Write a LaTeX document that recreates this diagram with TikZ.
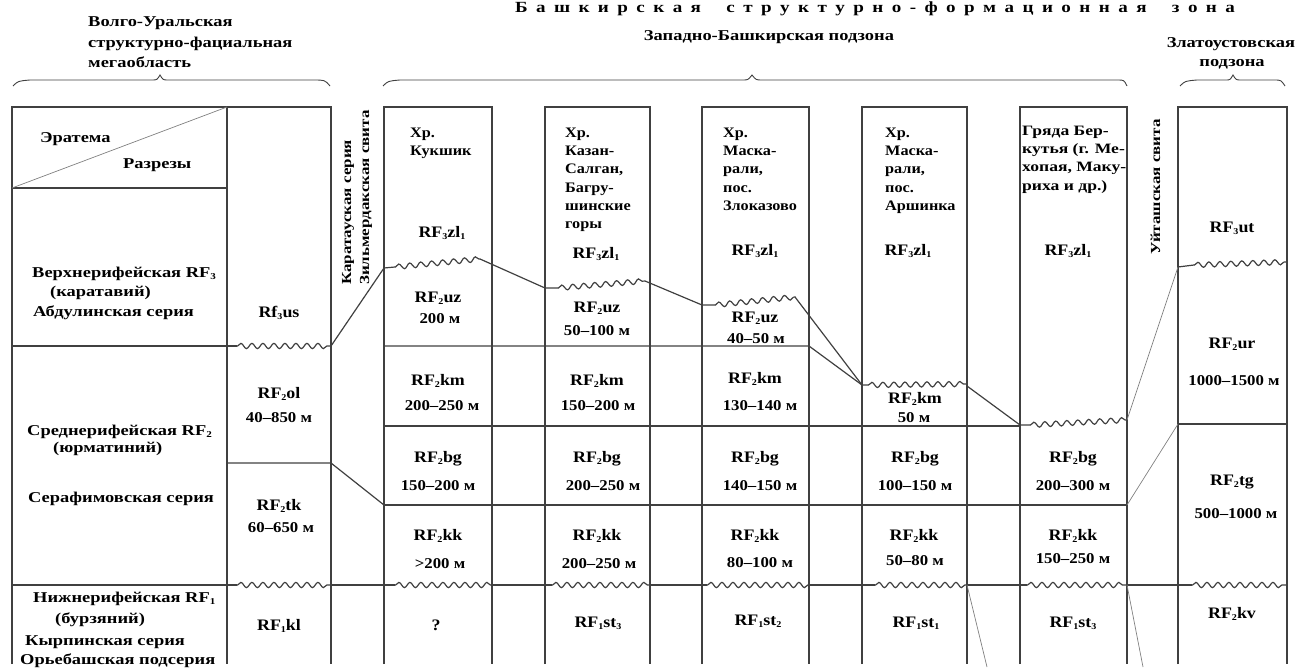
\documentclass[tikz,border=0pt]{standalone}
\usepackage{fontspec}
\setmainfont{Liberation Serif}[FakeStretch=1.12]
\newfontfamily\widefam{Liberation Serif}[FakeStretch=1.23]
\newcommand\sbs[1]{\raisebox{-2.2pt}{\fontsize{9}{9}\selectfont #1}}
\usetikzlibrary{decorations.pathmorphing}
\begin{document}
\begin{tikzpicture}[x=1pt,y=-1pt,
  every node/.style={inner sep=0pt, text=black},
  lab/.style={font=\bfseries\fontsize{15}{18.3}\selectfont, anchor=base},
  labw/.style={font=\widefam\bfseries\fontsize{15}{18.3}\selectfont, anchor=base west},
  labc/.style={font=\widefam\bfseries\fontsize{15}{18.3}\selectfont, anchor=base},
  rf/.style={font=\bfseries\fontsize{16}{18}\selectfont, anchor=base},
  hd/.style={font=\bfseries\fontsize{14.5}{18.3}\selectfont, anchor=base west},
  hdb/.style={font=\widefam\bfseries\fontsize{14.3}{18}\selectfont, anchor=base west},
  vt/.style={font=\widefam\bfseries\fontsize{13.8}{16}\selectfont, anchor=base west, rotate=90},
  ln/.style={line width=1.2pt, draw=black!75},
  thinln/.style={line width=0.7pt, draw=black!50},
  wave/.style={ln, decorate, decoration={snake, amplitude=2.6pt, segment length=11pt, pre length=0.5pt, post length=0.5pt}},
]
\useasboundingbox (0,0) rectangle (1299,667);

% ---------- title and headings ----------
\node[font=\widefam\bfseries\fontsize{15.5}{18}\selectfont, anchor=base] (title) at (875,12)
  {\makebox[720pt][s]{Б а ш к и р с к а я \ \ с т р у к т у р н о - ф о р м а ц и о н н а я \ \ з о н а}};
\node[labw] (vu1) at (88,26) {Волго-Уральская};
\node[labw] (vu2) at (88,47) {структурно-фациальная};
\node[labw] (vu3) at (88,67) {мегаобласть};
\node[labc] (wb) at (769,40) {Западно-Башкирская подзона};
\node[labc] (zl1) at (1231,47) {Златоустовская};
\node[labc] (zl2) at (1232,66) {подзона};

% braces
\draw[ln, line width=0.9pt] (13,86) .. controls (18,81) .. (30,80) -- (152,80) .. controls (157,80) .. (160,75) .. controls (163,80) .. (168,80) -- (313,80) .. controls (325,80) .. (330,86);
\draw[ln, line width=0.9pt] (383,86) .. controls (388,81) .. (400,80) -- (743,80) .. controls (748,80) .. (752,75) .. controls (756,80) .. (762,80) -- (1118,80) .. controls (1124,80) .. (1127,86);
\draw[ln, line width=0.9pt] (1180,86) .. controls (1185,81) .. (1197,80) -- (1226,80) .. controls (1230,80) .. (1233,75) .. controls (1236,80) .. (1241,80) -- (1274,80) .. controls (1281,80) .. (1285,86);

% ---------- table frame ----------
\draw[ln] (12,664) -- (12,107) -- (331,107) -- (331,664);
\draw[ln] (227,107) -- (227,664);
\draw[ln] (384,664) -- (384,107) -- (492,107) -- (492,664);
\draw[ln] (545,664) -- (545,107) -- (650,107) -- (650,664);
\draw[ln] (702,664) -- (702,107) -- (809,107) -- (809,664);
\draw[ln] (862,664) -- (862,107) -- (967,107) -- (967,664);
\draw[ln] (1020,664) -- (1020,107) -- (1127,107) -- (1127,664);
\draw[ln] (1178,664) -- (1178,107) -- (1287,107) -- (1287,664);

% left part
\draw[ln] (12,188) -- (227,188);
\draw[thinln] (12,188) -- (227,107);
\draw[ln] (12,346) -- (227,346);
\draw[ln] (227,346) -- (237,346);
\draw[wave] (237,346) -- (331,346);
\draw[ln] (331,346) -- (384,268);
\draw[ln] (227,463) -- (331,463) -- (384,505);
\draw[ln] (12,585) -- (237,585);
\draw[wave] (237,585) -- (331,585);

% upper contact RF3 / RF2
\draw[ln] (384,268) -- (395,267);
\draw[wave] (395,267) -- (480,259);
\draw[ln] (480,259) -- (545,288) -- (558,288);
\draw[wave] (558,288) -- (645,281);
\draw[ln] (645,281) -- (702,305) -- (715,305);
\draw[wave] (715,305) -- (795,297);
\draw[ln] (795,297) -- (862,385) -- (868,385);
\draw[wave] (868,385) -- (967,384);
\draw[ln] (967,386) -- (1020,425) -- (1030,425);
\draw[wave] (1030,425) -- (1127,420);
\draw[thinln] (1127,420) -- (1178,267);
\draw[ln] (1178,267) -- (1194,265);
\draw[wave] (1194,265) -- (1287,262);

% RF2 internal lines
\draw[ln] (384,346) -- (809,346) -- (862,385);
\draw[ln] (384,426) -- (1020,426);
\draw[ln] (384,505) -- (1127,505);
\draw[thinln] (1127,505) -- (1178,424);
\draw[ln] (1178,424) -- (1287,424);

% lower contact RF2 / RF1
\draw[ln] (331,585) -- (395,585);
\draw[wave] (395,585) -- (492,585);
\draw[ln] (492,585) -- (552,585);
\draw[wave] (552,585) -- (650,585);
\draw[ln] (650,585) -- (707,585);
\draw[wave] (707,585) -- (809,585);
\draw[ln] (809,585) -- (875,585);
\draw[wave] (875,585) -- (967,585);
\draw[ln] (967,585) -- (1027,585);
\draw[wave] (1027,585) -- (1127,585);
\draw[ln] (1127,585) -- (1192,585);
\draw[wave] (1192,585) -- (1287,585);
\draw[thinln] (967,585) -- (987,667);
\draw[thinln] (1127,585) -- (1143,667);

% ---------- vertical labels ----------
\node[vt] (kar) at (351,285) {Каратауская серия};
\node[vt] (zil) at (369,285) {Зильмердакская свита};
\node[vt] (uit) at (1160,255) {Уйташская свита};

% ---------- left columns ----------
\node[labw] (er) at (40,142) {Эратема};
\node[labw] (raz) at (123,168) {Разрезы};
\node[labw] (v1) at (32,277) {Верхнерифейская RF\sbs{3}};
\node[labw] (v2) at (50,296) {(каратавий)};
\node[labw] (v3) at (33,316) {Абдулинская серия};
\node[rf] (us) at (279,317) {Rf\sbs{3}us};

\node[labw] (s1) at (27,435) {Среднерифейская RF\sbs{2}};
\node[labw] (s2) at (53,452) {(юрматиний)};
\node[labw] (s3) at (28,502) {Серафимовская серия};
\node[labw] (n1) at (33,602) {Нижнерифейская RF\sbs{1}};
\node[labw] (n2) at (55,623) {(бурзяний)};
\node[labw] (n3) at (25,645) {Кырпинская серия};
\node[labw] (n4) at (20,664) {Орьебашская подсерия};

\node[rf] (ol) at (279,398) {RF\sbs{2}ol};
\node[lab] (olm) at (279,422) {40--850 м};
\node[rf] (tk) at (279,510) {RF\sbs{2}tk};
\node[lab] (tkm) at (281,532) {60--650 м};
\node[rf] (kl) at (279,630) {RF\sbs{1}kl};

% ---------- Kukshik ----------
\node[hd] (k0a) at (410,137) {Хр.};
\node[hd] (k0b) at (410,155) {Кукшик};
\node[rf] (kzl) at (442,237) {RF\sbs{3}zl\sbs{1}};
\node[rf] (kuz) at (438,302) {RF\sbs{2}uz};
\node[lab] (kuzm) at (440,323) {200 м};
\node[rf] (kkm) at (438,385) {RF\sbs{2}km};
\node[lab] (kkmm) at (442,410) {200--250 м};
\node[rf] (kbg) at (438,462) {RF\sbs{2}bg};
\node[lab] (kbgm) at (438,490) {150--200 м};
\node[rf] (kkk) at (438,540) {RF\sbs{2}kk};
\node[lab] (kkkm) at (440,568) {>200 м};
\node[rf] (kq) at (436,630) {?};

% ---------- Kazan-Salgan ----------
\node[hd] (s0a) at (565,137) {Хр.};
\node[hd] (s0b) at (565,155) {Казан-};
\node[hd] (s0c) at (565,173) {Салган,};
\node[hd] (s0d) at (565,192) {Багру-};
\node[hd] (s0e) at (565,210) {шинские};
\node[hd] (s0f) at (565,228) {горы};
\node[rf] (szl) at (596,258) {RF\sbs{3}zl\sbs{1}};
\node[rf] (suz) at (597,312) {RF\sbs{2}uz};
\node[lab] (suzm) at (597,335) {50--100 м};
\node[rf] (skm) at (597,385) {RF\sbs{2}km};
\node[lab] (skmm) at (598,410) {150--200 м};
\node[rf] (sbg) at (597,462) {RF\sbs{2}bg};
\node[lab] (sbgm) at (603,490) {200--250 м};
\node[rf] (skk) at (597,540) {RF\sbs{2}kk};
\node[lab] (skkm) at (599,568) {200--250 м};
\node[rf] (sst) at (598,627) {RF\sbs{1}st\sbs{3}};

% ---------- Zlokazovo ----------
\node[hd] (z0a) at (723,137) {Хр.};
\node[hd] (z0b) at (723,155) {Маска-};
\node[hd] (z0c) at (723,173) {рали,};
\node[hd] (z0d) at (723,192) {пос.};
\node[hd] (z0e) at (723,210) {Злоказово};
\node[rf] (zzl) at (755,255) {RF\sbs{3}zl\sbs{1}};
\node[rf] (zuz) at (755,322) {RF\sbs{2}uz};
\node[lab] (zuzm) at (756,343) {40--50 м};
\node[rf] (zkm) at (755,383) {RF\sbs{2}km};
\node[lab] (zkmm) at (760,410) {130--140 м};
\node[rf] (zbg) at (755,462) {RF\sbs{2}bg};
\node[lab] (zbgm) at (760,490) {140--150 м};
\node[rf] (zkk) at (755,540) {RF\sbs{2}kk};
\node[lab] (zkkm) at (760,567) {80--100 м};
\node[rf] (zst) at (758,625) {RF\sbs{1}st\sbs{2}};

% ---------- Arshinka ----------
\node[hd] (a0a) at (885,137) {Хр.};
\node[hd] (a0b) at (885,155) {Маска-};
\node[hd] (a0c) at (885,173) {рали,};
\node[hd] (a0d) at (885,192) {пос.};
\node[hd] (a0e) at (885,210) {Аршинка};
\node[rf] (azl) at (908,255) {RF\sbs{3}zl\sbs{1}};
\node[rf] (akm) at (915,403) {RF\sbs{2}km};
\node[lab] (akmm) at (914,422) {50 м};
\node[rf] (abg) at (915,462) {RF\sbs{2}bg};
\node[lab] (abgm) at (915,490) {100--150 м};
\node[rf] (akk) at (914,540) {RF\sbs{2}kk};
\node[lab] (akkm) at (915,565) {50--80 м};
\node[rf] (ast) at (916,627) {RF\sbs{1}st\sbs{1}};

% ---------- Berkutya ----------
\node[hdb] (b0a) at (1022,135) {Гряда Бер-};
\node[hdb] (b0b) at (1022,153) {кутья (г. Ме-};
\node[hdb] (b0c) at (1022,171) {хопая, Маку-};
\node[hdb] (b0d) at (1022,190) {риха и др.)};
\node[rf] (bzl) at (1068,255) {RF\sbs{3}zl\sbs{1}};
\node[rf] (bbg) at (1073,462) {RF\sbs{2}bg};
\node[lab] (bbgm) at (1073,490) {200--300 м};
\node[rf] (bkk) at (1073,540) {RF\sbs{2}kk};
\node[lab] (bkkm) at (1073,563) {150--250 м};
\node[rf] (bst) at (1073,627) {RF\sbs{1}st\sbs{3}};

% ---------- Zlatoust ----------
\node[rf] (uut) at (1232,232) {RF\sbs{3}ut};
\node[rf] (uur) at (1232,348) {RF\sbs{2}ur};
\node[lab] (uurm) at (1234,385) {1000--1500 м};
\node[rf] (utg) at (1232,485) {RF\sbs{2}tg};
\node[lab] (utgm) at (1236,518) {500--1000 м};
\node[rf] (ukv) at (1232,618) {RF\sbs{2}kv};
\end{tikzpicture}
\end{document}
